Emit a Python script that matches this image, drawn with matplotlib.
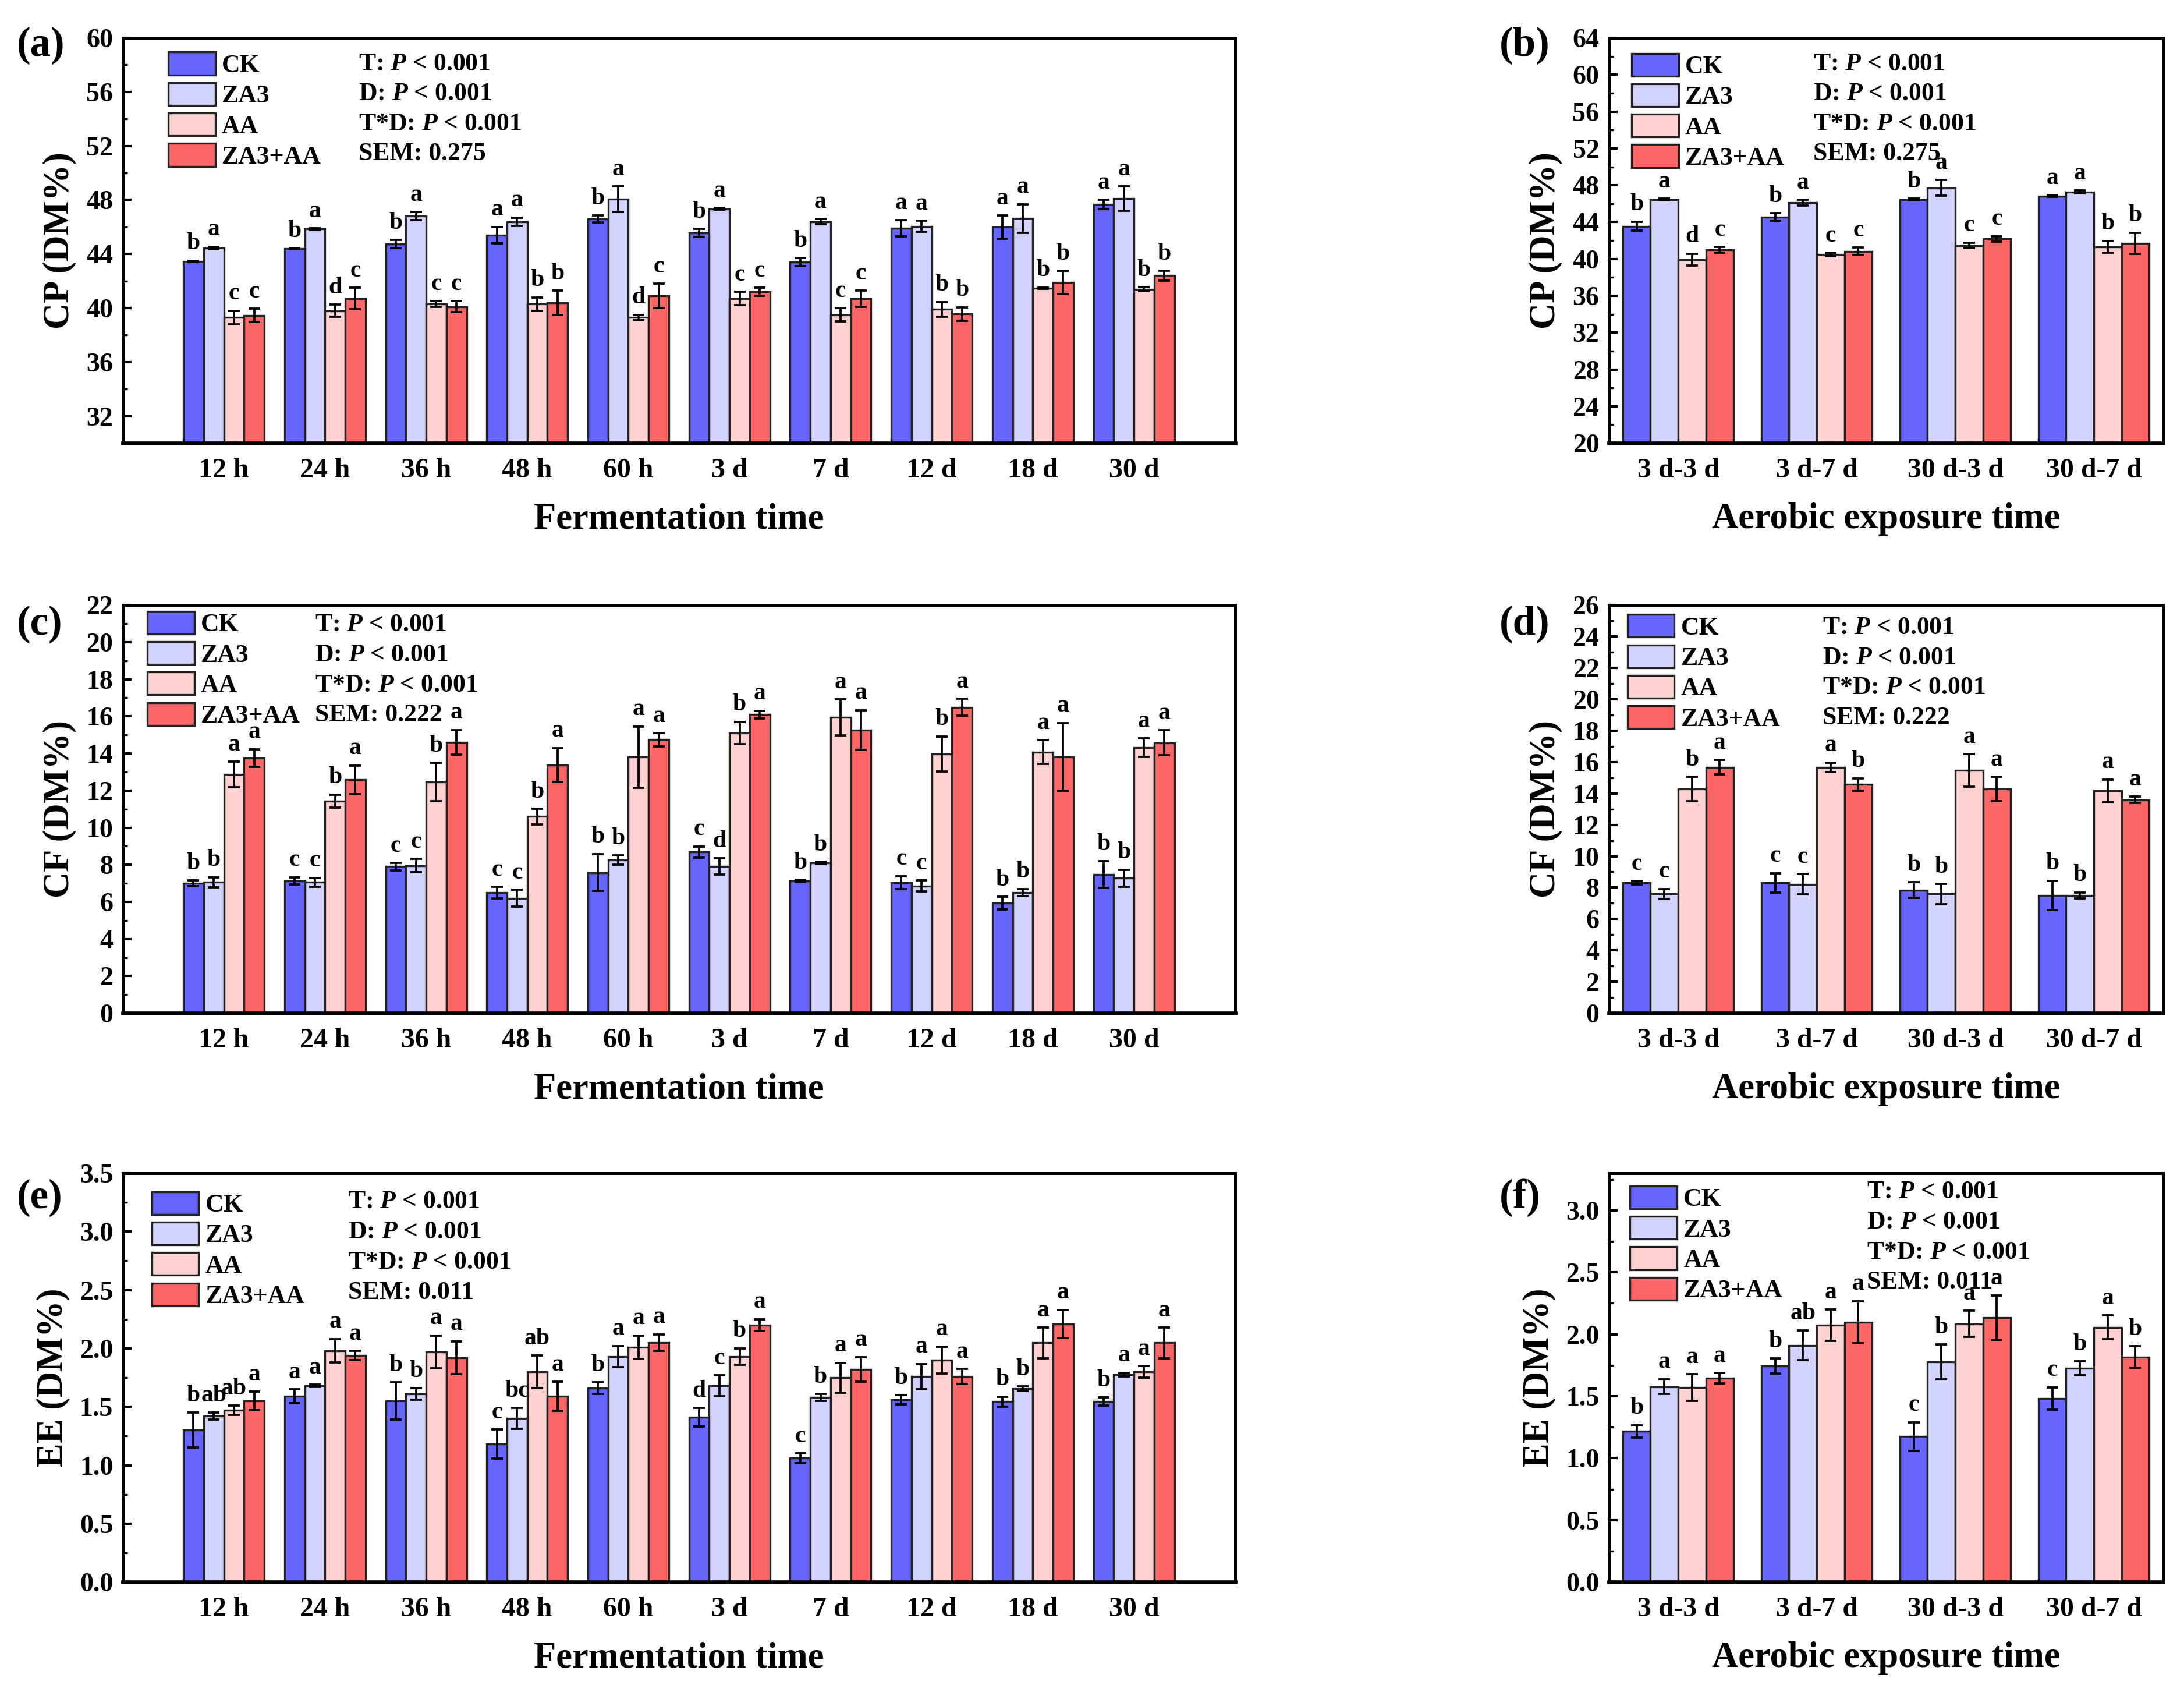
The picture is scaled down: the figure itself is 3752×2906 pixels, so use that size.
import matplotlib.pyplot as plt
import numpy as np
from matplotlib.ticker import MultipleLocator

plt.rcParams['font.family'] = 'Liberation Serif'
plt.rcParams['font.weight'] = 'bold'
plt.rcParams['mathtext.fontset'] = 'custom'
plt.rcParams['mathtext.it'] = 'Liberation Serif:italic:bold'
plt.rcParams['mathtext.rm'] = 'Liberation Serif:bold'

treatments = ["CK", "ZA3", "AA", "ZA3+AA"]
colors = ["#6666FF", "#D2D2FF", "#FFD2D2", "#FF6666"]
ferm_times = ["12 h", "24 h", "36 h", "48 h", "60 h", "3 d", "7 d", "12 d", "18 d", "30 d"]
aero_times = ["3 d-3 d", "3 d-7 d", "30 d-3 d", "30 d-7 d"]

# CP during fermentation (rows: CK, ZA3, AA, ZA3+AA)
cp_ferm_mean = [
    [43.45, 44.4, 44.75, 45.4, 46.6, 45.55, 43.4, 45.9, 46.0, 47.67],
    [44.45, 45.85, 46.8, 46.4, 48.05, 47.35, 46.4, 46.05, 46.63, 48.1],
    [39.3, 39.8, 40.3, 40.3, 39.3, 40.7, 39.5, 39.9, 41.47, 41.4],
    [39.45, 40.7, 40.1, 40.4, 40.9, 41.2, 40.7, 39.56, 41.9, 42.4],
]
cp_ferm_err = [
    [0.05, 0.03, 0.3, 0.6, 0.25, 0.3, 0.3, 0.6, 0.85, 0.35],
    [0.1, 0.05, 0.3, 0.3, 0.95, 0.05, 0.2, 0.4, 1.05, 0.9],
    [0.5, 0.45, 0.2, 0.5, 0.2, 0.5, 0.5, 0.55, 0.05, 0.15],
    [0.5, 0.8, 0.4, 0.9, 0.9, 0.3, 0.6, 0.5, 0.85, 0.35],
]
cp_ferm_sig = ["b a c c", "b a d c", "b a c c", "a a b b", "b a d c",
               "b a c c", "b a c c", "a a b b", "a a b b", "a a b b"]

# CP during aerobic exposure
cp_aero_mean = [
    [43.55, 44.55, 46.44, 46.82],
    [46.44, 46.1, 47.7, 47.27],
    [39.92, 40.47, 41.46, 41.3],
    [40.98, 40.82, 42.17, 41.69],
]
cp_aero_err = [
    [0.5, 0.4, 0.1, 0.1],
    [0.1, 0.3, 0.85, 0.15],
    [0.65, 0.2, 0.3, 0.65],
    [0.3, 0.4, 0.3, 1.15],
]
cp_aero_sig = ["b a d c", "b a c c", "b a c c", "a a b b"]

# CF during fermentation
cf_ferm_mean = [
    [7.0, 7.13, 7.9, 6.5, 7.58, 8.69, 7.13, 7.04, 5.94, 7.46],
    [7.05, 7.05, 7.96, 6.2, 8.25, 7.9, 8.1, 6.85, 6.5, 7.28],
    [12.87, 11.43, 12.47, 10.6, 13.8, 15.1, 15.95, 13.98, 14.08, 14.32],
    [13.75, 12.58, 14.6, 13.38, 14.74, 16.1, 15.27, 16.49, 13.82, 14.58],
]
cf_ferm_err = [
    [0.15, 0.2, 0.2, 0.3, 1.0, 0.3, 0.05, 0.35, 0.34, 0.72],
    [0.27, 0.25, 0.35, 0.45, 0.25, 0.44, 0.05, 0.3, 0.2, 0.46],
    [0.68, 0.35, 1.03, 0.42, 1.65, 0.6, 0.96, 0.94, 0.63, 0.5],
    [0.48, 0.77, 0.67, 0.91, 0.35, 0.2, 1.07, 0.46, 1.82, 0.68],
]
cf_ferm_sig = ["b b a a", "c c b a", "c c b a", "c c b a", "b b a a",
               "c d b a", "b b a a", "c c b a", "b b a a", "b b a a"]

# CF during aerobic exposure
cf_aero_mean = [
    [8.31, 8.31, 7.84, 7.5],
    [7.59, 8.22, 7.59, 7.5],
    [14.29, 15.67, 15.47, 14.16],
    [15.67, 14.57, 14.29, 13.59],
]
cf_aero_err = [
    [0.1, 0.61, 0.5, 0.93],
    [0.33, 0.65, 0.65, 0.2],
    [0.77, 0.3, 1.04, 0.73],
    [0.47, 0.4, 0.77, 0.2],
]
cf_aero_sig = ["c c b a", "c c a b", "b b a a", "b b a a"]

# EE during fermentation
ee_ferm_mean = [
    [1.30, 1.59, 1.55, 1.18, 1.66, 1.41, 1.06, 1.56, 1.544, 1.544],
    [1.42, 1.68, 1.61, 1.40, 1.93, 1.68, 1.58, 1.76, 1.654, 1.776],
    [1.47, 1.98, 1.97, 1.80, 2.01, 1.93, 1.75, 1.90, 2.047, 1.80],
    [1.55, 1.94, 1.92, 1.59, 2.05, 2.20, 1.82, 1.76, 2.21, 2.047],
]
ee_ferm_err = [
    [0.15, 0.06, 0.16, 0.125, 0.05, 0.08, 0.04, 0.04, 0.043, 0.035],
    [0.03, 0.01, 0.05, 0.09, 0.09, 0.09, 0.03, 0.107, 0.02, 0.015],
    [0.04, 0.1, 0.14, 0.14, 0.1, 0.07, 0.127, 0.116, 0.13, 0.05],
    [0.08, 0.04, 0.14, 0.125, 0.07, 0.05, 0.107, 0.063, 0.12, 0.132],
]
ee_ferm_sig = ["b ab ab a", "a a a a", "b b a a", "c bc ab a", "b a a a",
               "d c b a", "c b a a", "b a a a", "b b a a", "b a a a"]

# EE during aerobic exposure
ee_aero_mean = [
    [1.217, 1.745, 1.174, 1.481],
    [1.577, 1.91, 1.778, 1.725],
    [1.57, 2.073, 2.085, 2.056],
    [1.646, 2.097, 2.133, 1.816],
]
ee_aero_err = [
    [0.05, 0.06, 0.116, 0.09],
    [0.06, 0.12, 0.14, 0.056],
    [0.108, 0.125, 0.104, 0.096],
    [0.042, 0.17, 0.18, 0.087],
]
ee_aero_sig = ["b a a a", "b ab a a", "c b a a", "c b a b"]

sem_cp = "0.275"
sem_cf = "0.222"
sem_ee = "0.011"

fig = plt.figure(figsize=(3752 / 300, 2906 / 300), dpi=300)


def draw_panel(rect, cats, means, errs, sigs, ylim, major, minor, ylabel, xlabel,
               leg_xy, stat_xy, sem, tag, tag_xy):
    ax = fig.add_axes(rect)
    x = np.arange(len(cats))
    w = 0.2
    for k in range(4):
        xs = x + (k - 1.5) * w
        ax.bar(xs, means[k], w, yerr=errs[k], color=colors[k], edgecolor="#222222",
               linewidth=0.8, label=treatments[k],
               error_kw=dict(ecolor="black", elinewidth=0.9, capsize=2.3, capthick=0.9))
        for i in range(len(cats)):
            ax.annotate(sigs[i].split()[k], (xs[i], means[k][i] + errs[k][i]),
                        xytext=(0, 2.5), textcoords="offset points",
                        ha="center", va="bottom", fontsize=10, fontweight="bold")
    # small 4-group panels have half a group of margin, the long ones a whole group
    if len(cats) == 4:
        ax.set_xlim(-0.5, len(cats) - 0.5)
    else:
        ax.set_xlim(-1, len(cats))
    ax.set_ylim(*ylim)
    ax.yaxis.set_major_locator(MultipleLocator(major))
    ax.yaxis.set_minor_locator(MultipleLocator(minor))
    if major < 1:
        ax.yaxis.set_major_formatter(plt.FormatStrFormatter("%.1f"))
    ax.set_xticks(x)
    ax.set_xticklabels(cats, fontsize=11.5, fontweight="bold")
    ax.tick_params(axis="x", length=0, pad=6)
    ax.tick_params(axis="y", which="major", direction="in", length=3.5, width=1.0,
                   labelsize=11, pad=4)
    ax.tick_params(axis="y", which="minor", direction="in", length=2, width=0.8)
    for s in ax.spines.values():
        s.set_linewidth(1.2)
    ax.spines["bottom"].set_linewidth(1.6)
    ax.set_ylabel(ylabel, fontsize=15, fontweight="bold", labelpad=4)
    ax.set_xlabel(xlabel, fontsize=15, fontweight="bold", labelpad=8)

    ax.legend(loc="upper left", bbox_to_anchor=leg_xy, frameon=False, fontsize=10.5,
              handlelength=1.85, handleheight=1.0, labelspacing=0.2,
              handletextpad=0.25, borderaxespad=0, borderpad=0)
    stats = ["T: $P$ < 0.001", "D: $P$ < 0.001", "T*D: $P$ < 0.001", "SEM: " + sem]
    for i, s in enumerate(stats):
        ax.text(stat_xy[0], stat_xy[1] - i * 0.074, s, transform=ax.transAxes,
                ha="left", va="center", fontsize=10.5, fontweight="bold")
    fig.text(tag_xy[0], tag_xy[1], tag, fontsize=17, fontweight="bold", va="center")
    return ax


rows_bottom = [0.7381, 0.4012, 0.065]
rows_height = [0.2395, 0.2412, 0.2416]

draw_panel([0.0562, rows_bottom[0], 0.5093, rows_height[0]], ferm_times,
           cp_ferm_mean, cp_ferm_err, cp_ferm_sig, (30, 60), 4, 2,
           "CP (DM%)", "Fermentation time", (0.041, 0.965), (0.212, 0.936),
           sem_cp, "(a)", (0.0077, 0.973))
draw_panel([0.7367, rows_bottom[0], 0.2537, rows_height[0]], aero_times,
           cp_aero_mean, cp_aero_err, cp_aero_sig, (20, 64), 4, 2,
           "CP (DM%)", "Aerobic exposure time", (0.041, 0.962), (0.369, 0.936),
           sem_cp, "(b)", (0.6866, 0.973))
draw_panel([0.0562, rows_bottom[1], 0.5093, rows_height[1]], ferm_times,
           cf_ferm_mean, cf_ferm_err, cf_ferm_sig, (0, 22), 2, 1,
           "CF (DM%)", "Fermentation time", (0.022, 0.985), (0.173, 0.952),
           sem_cf, "(c)", (0.0077, 0.631))
draw_panel([0.7367, rows_bottom[1], 0.2537, rows_height[1]], aero_times,
           cf_aero_mean, cf_aero_err, cf_aero_sig, (0, 26), 2, 1,
           "CF (DM%)", "Aerobic exposure time", (0.033, 0.977), (0.385, 0.945),
           sem_cf, "(d)", (0.6866, 0.631))
draw_panel([0.0562, rows_bottom[2], 0.5093, rows_height[2]], ferm_times,
           ee_ferm_mean, ee_ferm_err, ee_ferm_sig, (0, 3.5), 0.5, 0.25,
           "EE (DM%)", "Fermentation time", (0.026, 0.955), (0.2025, 0.930),
           sem_ee, "(e)", (0.0077, 0.292))
draw_panel([0.7367, rows_bottom[2], 0.2537, rows_height[2]], aero_times,
           ee_aero_mean, ee_aero_err, ee_aero_sig, (0, 3.3), 0.5, 0.25,
           "EE (DM%)", "Aerobic exposure time", (0.038, 0.969), (0.465, 0.955),
           sem_ee, "(f)", (0.6866, 0.292))

fig.savefig("out.png", dpi=300)
